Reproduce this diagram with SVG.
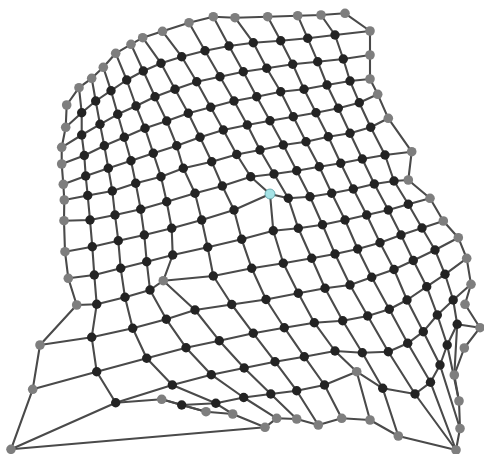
<svg xmlns="http://www.w3.org/2000/svg" width="484" height="454" viewBox="0 0 484 454">
<style>
.e{fill:none;stroke:#4a4a4a;stroke-width:2.1;stroke-linejoin:round}
.b circle{fill:#232323;r:4.7px}
.g circle{fill:#7e7e7e;r:4.8px}
.c{fill:#a6e3e6;stroke:#5a9ea3;stroke-width:0.8}
</style>
<rect width="484" height="454" fill="#fff"/>
<g id="connectors" class="e">
<polyline points="65.7,127.3 81.7,112.7 95.7,101 111,90.7 126.7,80 143.3,71 161,63.3 181.7,56.7 205,50.7 229,46 253.3,42.7 280.7,40.7 307.7,38.3 335,35 370,31"/>
<polyline points="61.7,147.3 81.7,135 100,124.3 117.7,114.3 136,106 155,96.7 175,89.3 196.7,81.7 220,76.7 243.3,71.7 266.7,68.3 292.7,64.3 317.7,61.7 343.3,59 370,55"/>
<polyline points="61.7,164 84.3,155.5 104.3,145.7 124.3,137.3 145,128.3 166.7,121 188.3,113.3 210.7,107.3 234,101 256.7,96.7 280.7,91.7 304,89.3 327,85 350,81 370,79"/>
<polyline points="63.3,184.3 85.7,176 108.3,168.3 131,160.7 153.3,153.3 176.7,145.7 200,137.3 223.3,130 247.3,125 270,120.7 293.3,116.7 316,112.7 338.3,108.3 359.3,102.7 377.7,94.3"/>
<polyline points="64.3,200 87.7,195.5 112.3,191 135.7,183.3 161,176.7 183.3,168.3 211.7,161.7 236.7,154.5 260,150 283.3,145 306,141.7 328.3,136.7 350,133.3 370.7,127.3 388.3,118.3"/>
<polyline points="64,220.7 90,220 115,215 140.7,209.3 166.7,201.7 195,193.3 222.3,186 250.7,176.7 274,174 296.7,170.7 319.3,166.7 340.7,163.3 362.3,159 385,155 411.7,151.7"/>
<polyline points="65,251.7 92.3,246.7 118.3,240.7 144.3,235 171.7,228.3 201.7,220 234,210 270,194 288.3,198.3 310,196.7 331.7,193.3 353.3,189 374.3,184 394,181 408.3,180"/>
<polyline points="68.3,278.3 94.3,275 120.7,268.3 146.7,261.7 172.7,255 207.7,247.3 241.7,239.3 273.3,230.7 298.3,228.3 322.5,224.7 345,220 366.7,215 388.3,210 408.3,204.3 430,198.3"/>
<polyline points="76.7,305 96.7,304.3 125,297.3 150,290 163.3,280.7 213.3,276 251.7,268.3 283.3,263.3 311.7,258.3 335,254 357.7,249 380,242.7 401,235 422,228 443.3,221"/>
<polyline points="40,345 91.7,337.3 132.7,328.3 166.3,319.3 195,310 231.7,304.5 266,299.5 298.3,293.3 325,288.3 350,285 371.7,277.3 394,269.5 413.3,260.5 435,250 458.3,237.7"/>
<polyline points="32.7,389.3 96.7,371.7 146.7,358.3 186,347.7 219.3,340.7 253.3,333.3 284.3,327.7 314.3,322.7 342.7,320.7 367.7,316 389.3,309.3 407,300 426.7,286.7 445,274.3 466.7,258.3"/>
<polyline points="11,449.3 115.7,402.7 172.3,385 211.3,374.7 244.2,368 275,361.7 304.3,356.7 335,351 362.3,352.7 388.3,351.7 407.7,343.3 423.3,331.7 437.3,315 453.2,300 471,284.3"/>
<polyline points="161.7,399.3 181.7,405 215.8,403.3 243.7,397.5 270.8,394 296.7,390.7 324.5,385 356.7,371.7 382.7,388.3 415,394 430.5,382.3 440,365 447.2,345 457.2,324.3 480,327.7"/>
<polyline points="79,87.7 81.7,112.7 81.7,135 84.3,155.5 85.7,176 87.7,195.5 90,220 92.3,246.7 94.3,275 96.7,304.3 91.7,337.3 96.7,371.7 115.7,402.7 161.7,399.3"/>
<polyline points="181.7,405 206,411.7"/>
<polyline points="91.7,78.3 95.7,101 100,124.3 104.3,145.7 108.3,168.3 112.3,191 115,215 118.3,240.7 120.7,268.3 125,297.3 132.7,328.3 146.7,358.3 172.3,385 215.8,403.3 232.7,414"/>
<polyline points="103.3,67.3 111,90.7 117.7,114.3 124.3,137.3 131,160.7 135.7,183.3 140.7,209.3 144.3,235 146.7,261.7 150,290 166.3,319.3 186,347.7 211.3,374.7 243.7,397.5 276.7,418.3"/>
<polyline points="115.7,53.3 126.7,80 136,106 145,128.3 153.3,153.3 161,176.7 166.7,201.7 171.7,228.3 172.7,255 163.3,280.7 195,310 219.3,340.7 244.2,368 270.8,394 296.7,419"/>
<polyline points="131,44.3 143.3,71 155,96.7 166.7,121 176.7,145.7 183.3,168.3 195,193.3 201.7,220 207.7,247.3 213.3,276 231.7,304.5 253.3,333.3 275,361.7 296.7,390.7 318.3,425"/>
<polyline points="142.7,37.7 161,63.3 175,89.3 188.3,113.3 200,137.3 211.7,161.7 222.3,186 234,210 241.7,239.3 251.7,268.3 266,299.5 284.3,327.7 304.3,356.7 324.5,385 341.7,418.3"/>
<polyline points="162.5,31.3 181.7,56.7 196.7,81.7 210.7,107.3 223.3,130 236.7,154.5 250.7,176.7 270,194 273.3,230.7 283.3,263.3 298.3,293.3 314.3,322.7 335,351 356.7,371.7 370,420"/>
<polyline points="189,22.7 205,50.7 220,76.7 234,101 247.3,125 260,150 274,174 288.3,198.3 298.3,228.3 311.7,258.3 325,288.3 342.7,320.7 362.3,352.7 382.7,388.3 398.3,436"/>
<polyline points="213.3,16.7 229,46 243.3,71.7 256.7,96.7 270,120.7 283.3,145 296.7,170.7 310,196.7 322.5,224.7 335,254 350,285 367.7,316 388.3,351.7 415,394 456,450"/>
<polyline points="235,17.7 253.3,42.7 266.7,68.3 280.7,91.7 293.3,116.7 306,141.7 319.3,166.7 331.7,193.3 345,220 357.7,249 371.7,277.3 389.3,309.3 407.7,343.3 430.5,382.3 456,450"/>
<polyline points="267.7,16.7 280.7,40.7 292.7,64.3 304,89.3 316,112.7 328.3,136.7 340.7,163.3 353.3,189 366.7,215 380,242.7 394,269.5 407,300 423.3,331.7 440,365 460,428.5"/>
<polyline points="297.7,15.7 307.7,38.3 317.7,61.7 327,85 338.3,108.3 350,133.3 362.3,159 374.3,184 388.3,210 401,235 413.3,260.5 426.7,286.7 437.3,315 447.2,345 459,401"/>
<polyline points="321,15 335,35 343.3,59 350,81 359.3,102.7 370.7,127.3 385,155 394,181 408.3,204.3 422,228 435,250 445,274.3 453.2,300 457.2,324.3 454.3,375"/>
<polyline points="65.7,127.3 66.7,105 79,87.7 91.7,78.3 103.3,67.3 115.7,53.3 131,44.3 142.7,37.7 162.5,31.3 189,22.7 213.3,16.7 235,17.7 267.7,16.7 297.7,15.7 321,15 345,13.3 370,31 370,55 370,79 377.7,94.3 388.3,118.3 411.7,151.7 408.3,180 430,198.3 443.3,221 458.3,237.7 466.7,258.3 471,284.3 465,304.3 480,327.7 464.3,348 454.3,375 459,401 460,428.5 456,450 398.3,436 370,420 341.7,418.3 318.3,425 296.7,419 276.7,418.3 265,427.3 232.7,414 206,411.7 161.7,399.3"/>
<polyline points="265,427.3 11,449.3 32.7,389.3 40,345 76.7,305 68.3,278.3 65,251.7 64,220.7 64.3,200 63.3,184.3 61.7,164 61.7,147.3 65.7,127.3"/>
</g>
<g id="nodes">
<g id="gray-nodes" class="g">
<circle cx="66.7" cy="105" r="4.8"/><circle cx="79" cy="87.7" r="4.8"/><circle cx="91.7" cy="78.3" r="4.8"/><circle cx="103.3" cy="67.3" r="4.8"/><circle cx="115.7" cy="53.3" r="4.8"/><circle cx="131" cy="44.3" r="4.8"/><circle cx="142.7" cy="37.7" r="4.8"/><circle cx="162.5" cy="31.3" r="4.8"/><circle cx="189" cy="22.7" r="4.8"/><circle cx="213.3" cy="16.7" r="4.8"/><circle cx="235" cy="17.7" r="4.8"/><circle cx="267.7" cy="16.7" r="4.8"/><circle cx="297.7" cy="15.7" r="4.8"/><circle cx="321" cy="15" r="4.8"/><circle cx="345" cy="13.3" r="4.8"/>
<circle cx="65.7" cy="127.3" r="4.8"/><circle cx="61.7" cy="147.3" r="4.8"/><circle cx="61.7" cy="164" r="4.8"/><circle cx="63.3" cy="184.3" r="4.8"/><circle cx="64.3" cy="200" r="4.8"/><circle cx="64" cy="220.7" r="4.8"/><circle cx="65" cy="251.7" r="4.8"/><circle cx="68.3" cy="278.3" r="4.8"/><circle cx="76.7" cy="305" r="4.8"/><circle cx="40" cy="345" r="4.8"/><circle cx="32.7" cy="389.3" r="4.8"/><circle cx="11" cy="449.3" r="4.8"/>
<circle cx="370" cy="31" r="4.8"/><circle cx="370" cy="55" r="4.8"/><circle cx="370" cy="79" r="4.8"/><circle cx="377.7" cy="94.3" r="4.8"/><circle cx="388.3" cy="118.3" r="4.8"/><circle cx="411.7" cy="151.7" r="4.8"/><circle cx="408.3" cy="180" r="4.8"/><circle cx="430" cy="198.3" r="4.8"/><circle cx="443.3" cy="221" r="4.8"/><circle cx="458.3" cy="237.7" r="4.8"/><circle cx="466.7" cy="258.3" r="4.8"/><circle cx="471" cy="284.3" r="4.8"/><circle cx="465" cy="304.3" r="4.8"/><circle cx="480" cy="327.7" r="4.8"/><circle cx="464.3" cy="348" r="4.8"/><circle cx="454.3" cy="375" r="4.8"/><circle cx="459" cy="401" r="4.8"/><circle cx="460" cy="428.5" r="4.8"/><circle cx="456" cy="450" r="4.8"/>
<circle cx="398.3" cy="436" r="4.8"/><circle cx="370" cy="420" r="4.8"/><circle cx="341.7" cy="418.3" r="4.8"/><circle cx="318.3" cy="425" r="4.8"/><circle cx="296.7" cy="419" r="4.8"/><circle cx="276.7" cy="418.3" r="4.8"/><circle cx="265" cy="427.3" r="4.8"/><circle cx="232.7" cy="414" r="4.8"/><circle cx="206" cy="411.7" r="4.8"/><circle cx="161.7" cy="399.3" r="4.8"/>
<circle cx="163.3" cy="280.7" r="4.8"/><circle cx="356.7" cy="371.7" r="4.8"/>
</g>
<g id="black-nodes" class="b">
<circle cx="81.7" cy="112.7" r="4.7"/><circle cx="95.7" cy="101" r="4.7"/><circle cx="111" cy="90.7" r="4.7"/><circle cx="126.7" cy="80" r="4.7"/><circle cx="143.3" cy="71" r="4.7"/><circle cx="161" cy="63.3" r="4.7"/><circle cx="181.7" cy="56.7" r="4.7"/><circle cx="205" cy="50.7" r="4.7"/><circle cx="229" cy="46" r="4.7"/><circle cx="253.3" cy="42.7" r="4.7"/><circle cx="280.7" cy="40.7" r="4.7"/><circle cx="307.7" cy="38.3" r="4.7"/><circle cx="335" cy="35" r="4.7"/>
<circle cx="81.7" cy="135" r="4.7"/><circle cx="100" cy="124.3" r="4.7"/><circle cx="117.7" cy="114.3" r="4.7"/><circle cx="136" cy="106" r="4.7"/><circle cx="155" cy="96.7" r="4.7"/><circle cx="175" cy="89.3" r="4.7"/><circle cx="196.7" cy="81.7" r="4.7"/><circle cx="220" cy="76.7" r="4.7"/><circle cx="243.3" cy="71.7" r="4.7"/><circle cx="266.7" cy="68.3" r="4.7"/><circle cx="292.7" cy="64.3" r="4.7"/><circle cx="317.7" cy="61.7" r="4.7"/><circle cx="343.3" cy="59" r="4.7"/>
<circle cx="84.3" cy="155.5" r="4.7"/><circle cx="104.3" cy="145.7" r="4.7"/><circle cx="124.3" cy="137.3" r="4.7"/><circle cx="145" cy="128.3" r="4.7"/><circle cx="166.7" cy="121" r="4.7"/><circle cx="188.3" cy="113.3" r="4.7"/><circle cx="210.7" cy="107.3" r="4.7"/><circle cx="234" cy="101" r="4.7"/><circle cx="256.7" cy="96.7" r="4.7"/><circle cx="280.7" cy="91.7" r="4.7"/><circle cx="304" cy="89.3" r="4.7"/><circle cx="327" cy="85" r="4.7"/><circle cx="350" cy="81" r="4.7"/>
<circle cx="85.7" cy="176" r="4.7"/><circle cx="108.3" cy="168.3" r="4.7"/><circle cx="131" cy="160.7" r="4.7"/><circle cx="153.3" cy="153.3" r="4.7"/><circle cx="176.7" cy="145.7" r="4.7"/><circle cx="200" cy="137.3" r="4.7"/><circle cx="223.3" cy="130" r="4.7"/><circle cx="247.3" cy="125" r="4.7"/><circle cx="270" cy="120.7" r="4.7"/><circle cx="293.3" cy="116.7" r="4.7"/><circle cx="316" cy="112.7" r="4.7"/><circle cx="338.3" cy="108.3" r="4.7"/><circle cx="359.3" cy="102.7" r="4.7"/>
<circle cx="87.7" cy="195.5" r="4.7"/><circle cx="112.3" cy="191" r="4.7"/><circle cx="135.7" cy="183.3" r="4.7"/><circle cx="161" cy="176.7" r="4.7"/><circle cx="183.3" cy="168.3" r="4.7"/><circle cx="211.7" cy="161.7" r="4.7"/><circle cx="236.7" cy="154.5" r="4.7"/><circle cx="260" cy="150" r="4.7"/><circle cx="283.3" cy="145" r="4.7"/><circle cx="306" cy="141.7" r="4.7"/><circle cx="328.3" cy="136.7" r="4.7"/><circle cx="350" cy="133.3" r="4.7"/><circle cx="370.7" cy="127.3" r="4.7"/>
<circle cx="90" cy="220" r="4.7"/><circle cx="115" cy="215" r="4.7"/><circle cx="140.7" cy="209.3" r="4.7"/><circle cx="166.7" cy="201.7" r="4.7"/><circle cx="195" cy="193.3" r="4.7"/><circle cx="222.3" cy="186" r="4.7"/><circle cx="250.7" cy="176.7" r="4.7"/><circle cx="274" cy="174" r="4.7"/><circle cx="296.7" cy="170.7" r="4.7"/><circle cx="319.3" cy="166.7" r="4.7"/><circle cx="340.7" cy="163.3" r="4.7"/><circle cx="362.3" cy="159" r="4.7"/><circle cx="385" cy="155" r="4.7"/>
<circle cx="92.3" cy="246.7" r="4.7"/><circle cx="118.3" cy="240.7" r="4.7"/><circle cx="144.3" cy="235" r="4.7"/><circle cx="171.7" cy="228.3" r="4.7"/><circle cx="201.7" cy="220" r="4.7"/><circle cx="234" cy="210" r="4.7"/><circle cx="288.3" cy="198.3" r="4.7"/><circle cx="310" cy="196.7" r="4.7"/><circle cx="331.7" cy="193.3" r="4.7"/><circle cx="353.3" cy="189" r="4.7"/><circle cx="374.3" cy="184" r="4.7"/><circle cx="394" cy="181" r="4.7"/>
<circle cx="94.3" cy="275" r="4.7"/><circle cx="120.7" cy="268.3" r="4.7"/><circle cx="146.7" cy="261.7" r="4.7"/><circle cx="172.7" cy="255" r="4.7"/><circle cx="207.7" cy="247.3" r="4.7"/><circle cx="241.7" cy="239.3" r="4.7"/><circle cx="273.3" cy="230.7" r="4.7"/><circle cx="298.3" cy="228.3" r="4.7"/><circle cx="322.5" cy="224.7" r="4.7"/><circle cx="345" cy="220" r="4.7"/><circle cx="366.7" cy="215" r="4.7"/><circle cx="388.3" cy="210" r="4.7"/><circle cx="408.3" cy="204.3" r="4.7"/>
<circle cx="96.7" cy="304.3" r="4.7"/><circle cx="125" cy="297.3" r="4.7"/><circle cx="150" cy="290" r="4.7"/><circle cx="213.3" cy="276" r="4.7"/><circle cx="251.7" cy="268.3" r="4.7"/><circle cx="283.3" cy="263.3" r="4.7"/><circle cx="311.7" cy="258.3" r="4.7"/><circle cx="335" cy="254" r="4.7"/><circle cx="357.7" cy="249" r="4.7"/><circle cx="380" cy="242.7" r="4.7"/><circle cx="401" cy="235" r="4.7"/><circle cx="422" cy="228" r="4.7"/>
<circle cx="91.7" cy="337.3" r="4.7"/><circle cx="132.7" cy="328.3" r="4.7"/><circle cx="166.3" cy="319.3" r="4.7"/><circle cx="195" cy="310" r="4.7"/><circle cx="231.7" cy="304.5" r="4.7"/><circle cx="266" cy="299.5" r="4.7"/><circle cx="298.3" cy="293.3" r="4.7"/><circle cx="325" cy="288.3" r="4.7"/><circle cx="350" cy="285" r="4.7"/><circle cx="371.7" cy="277.3" r="4.7"/><circle cx="394" cy="269.5" r="4.7"/><circle cx="413.3" cy="260.5" r="4.7"/><circle cx="435" cy="250" r="4.7"/>
<circle cx="96.7" cy="371.7" r="4.7"/><circle cx="146.7" cy="358.3" r="4.7"/><circle cx="186" cy="347.7" r="4.7"/><circle cx="219.3" cy="340.7" r="4.7"/><circle cx="253.3" cy="333.3" r="4.7"/><circle cx="284.3" cy="327.7" r="4.7"/><circle cx="314.3" cy="322.7" r="4.7"/><circle cx="342.7" cy="320.7" r="4.7"/><circle cx="367.7" cy="316" r="4.7"/><circle cx="389.3" cy="309.3" r="4.7"/><circle cx="407" cy="300" r="4.7"/><circle cx="426.7" cy="286.7" r="4.7"/><circle cx="445" cy="274.3" r="4.7"/>
<circle cx="115.7" cy="402.7" r="4.7"/><circle cx="172.3" cy="385" r="4.7"/><circle cx="211.3" cy="374.7" r="4.7"/><circle cx="244.2" cy="368" r="4.7"/><circle cx="275" cy="361.7" r="4.7"/><circle cx="304.3" cy="356.7" r="4.7"/><circle cx="335" cy="351" r="4.7"/><circle cx="362.3" cy="352.7" r="4.7"/><circle cx="388.3" cy="351.7" r="4.7"/><circle cx="407.7" cy="343.3" r="4.7"/><circle cx="423.3" cy="331.7" r="4.7"/><circle cx="437.3" cy="315" r="4.7"/><circle cx="453.2" cy="300" r="4.7"/>
<circle cx="181.7" cy="405" r="4.7"/><circle cx="215.8" cy="403.3" r="4.7"/><circle cx="243.7" cy="397.5" r="4.7"/><circle cx="270.8" cy="394" r="4.7"/><circle cx="296.7" cy="390.7" r="4.7"/><circle cx="324.5" cy="385" r="4.7"/><circle cx="382.7" cy="388.3" r="4.7"/><circle cx="415" cy="394" r="4.7"/><circle cx="430.5" cy="382.3" r="4.7"/><circle cx="440" cy="365" r="4.7"/><circle cx="447.2" cy="345" r="4.7"/><circle cx="457.2" cy="324.3" r="4.7"/>
</g>
<g id="focus-node"><circle class="c" cx="270" cy="194" r="5"/></g>
</g>
</svg>
